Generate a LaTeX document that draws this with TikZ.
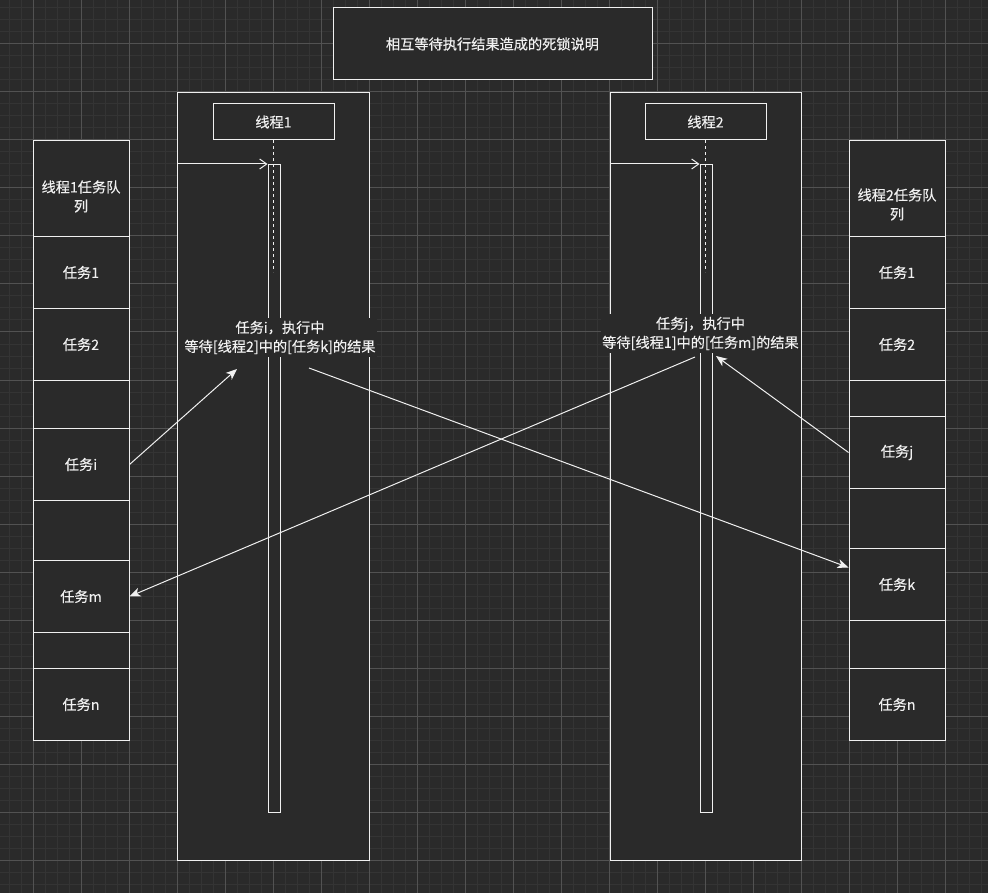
\documentclass[tikz,border=0pt]{standalone}
\usepackage{fontspec}
\setmainfont{Noto Sans CJK SC}[FakeBold=0.3]
\usetikzlibrary{arrows.meta}
\definecolor{bgdark}{HTML}{2A2A2A}
\definecolor{gridminor}{HTML}{343434}
\definecolor{gridmajor}{HTML}{525252}
\definecolor{linewhite}{HTML}{F0F0F0}
\newcommand{\taskcell}[5]{% \taskcell ==== name, x, top, height, text
		\node[cell, minimum height=#4pt, anchor=north] (#1) at (#2, #3) {#5};
	}

\begin{document}
\begin{tikzpicture}[x=1pt, y=-1pt,
		every node/.style={font=\fontsize{14.2}{19}\selectfont, text=linewhite},
		box/.style={draw=linewhite, fill=bgdark, line width=1pt},
		cell/.style={box, minimum width=96pt, align=center, inner sep=0pt},
		bar/.style={box, minimum width=12pt, inner sep=0pt},
		lifeline/.style={draw=linewhite, line width=1pt, dash pattern=on 3pt off 3pt},
		callarrow/.style={draw=linewhite, line width=1pt, -{Straight Barb[length=7pt,width=10pt]}},
		waitarrow/.style={draw=linewhite, line width=1pt, -{Stealth[length=11pt,width=9pt,inset=3pt]}},
		waitlabel/.style={fill=bgdark, align=center, inner xsep=1pt, inner ysep=3pt}
	]
		\useasboundingbox (0,0) rectangle (988,893);
		% grid === V
		\fill[bgdark] (0,0) rectangle (988,893);
		\foreach \gx in {9,21,...,981} \draw[gridminor, line width=1pt] (\gx,0) -- (\gx,893);
		\foreach \gy in {8,20,...,884} \draw[gridminor, line width=1pt] (0,\gy) -- (988,\gy);
		\foreach \gx in {33,81,...,945} \draw[gridmajor, line width=1pt] (\gx,0) -- (\gx,893);
		\foreach \gy in {44,92,...,860} \draw[gridmajor, line width=1pt] (0,\gy) -- (988,\gy);
		% ==== A

		% title
		\node[box, minimum width=319pt, minimum height=72pt] (title) at (492.5,44) {相互等待执行结果造成的死锁说明};

		% thread 1
		\node[box, minimum width=192pt, minimum height=768pt, anchor=north west] (frame1) at (177,92) {};
		\node[box, minimum width=121pt, minimum height=36pt] (head1) at (273.5,122) {线程1};
		\node[bar, minimum height=648pt, anchor=north] (bar1) at (274,164) {};
		\draw[lifeline] (head1.south) -- ++(0,132);
		\draw[callarrow] (frame1.west |- bar1.north) -- (bar1.north west);

		% thread 2
		\node[box, minimum width=191pt, minimum height=768pt, anchor=north west] (frame2) at (610,92) {};
		\node[box, minimum width=121pt, minimum height=36pt] (head2) at (705.5,122) {线程2};
		\node[bar, minimum height=648pt, anchor=north] (bar2) at (706,164) {};
		\draw[lifeline] (head2.south) -- ++(0,132);
		\draw[callarrow] (frame2.west |- bar2.north) -- (bar2.north west);

		% queue of thread 1
		\node[cell, minimum height=96pt, anchor=north,
			label={[align=center, yshift=-8pt]center:线程1任务队\\列}] (q1h) at (81,140) {};
		\taskcell{q1a}{81}{236}{72}{任务1}
		\taskcell{q1b}{81}{308}{72}{任务2}
		\taskcell{q1g1}{81}{380}{48}{}
		\taskcell{q1i}{81}{428}{72}{任务i}
		\taskcell{q1g2}{81}{500}{60}{}
		\taskcell{q1m}{81}{560}{72}{任务m}
		\taskcell{q1g3}{81}{632}{36}{}
		\taskcell{q1n}{81}{668}{72}{任务n}

		% queue of thread 2
		\node[cell, minimum height=96pt, anchor=north,
			label={[align=center, yshift=-16pt]center:线程2任务队\\列}] (q2h) at (897,140) {};
		\taskcell{q2a}{897}{236}{72}{任务1}
		\taskcell{q2b}{897}{308}{72}{任务2}
		\taskcell{q2g1}{897}{380}{36}{}
		\taskcell{q2j}{897}{416}{72}{任务j}
		\taskcell{q2g2}{897}{488}{60}{}
		\taskcell{q2k}{897}{548}{72}{任务k}
		\taskcell{q2g3}{897}{620}{48}{}
		\taskcell{q2n}{897}{668}{72}{任务n}

		% waiting
		\node[waitlabel] (waitI) at (280,337.5) {任务i，执行中\\等待[线程2]中的[任务k]的结果};
		\node[waitlabel] (waitJ) at (700.5,333.5) {任务j，执行中\\等待[线程1]中的[任务m]的结果};
		\coordinate (waitIin) at (237,369);
		\coordinate (waitIout) at (309,368);
		\coordinate (waitJout) at (695,357);
		\coordinate (waitJin) at (716,356);

		\draw[waitarrow] (q1i.east) -- (waitIin);
		\draw[waitarrow] (waitIout) -- ([yshift=17pt]q2k.west);
		\draw[waitarrow] (waitJout) -- (q1m.east);
		\draw[waitarrow] (q2j.west) -- (waitJin);
	\end{tikzpicture}
\end{document}
